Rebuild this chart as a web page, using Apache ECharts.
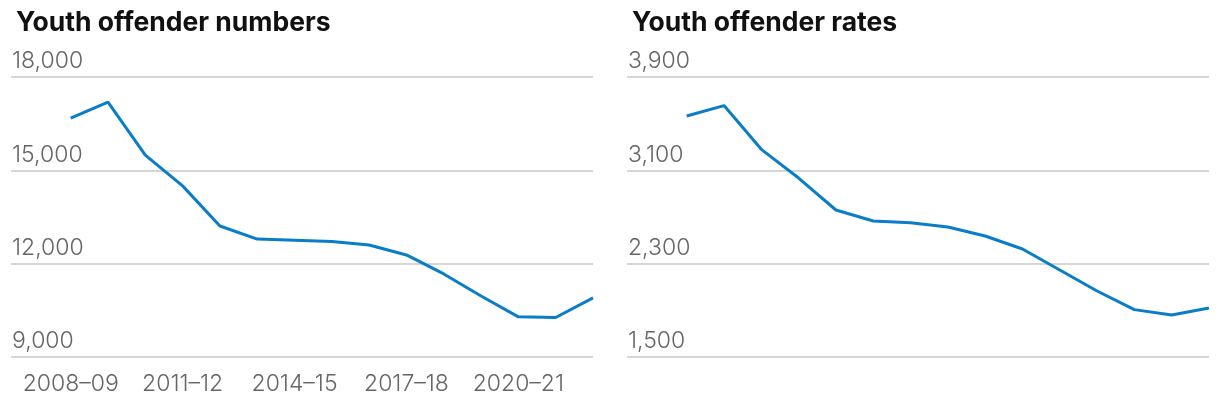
<!DOCTYPE html>
<html>
<head>
<meta charset="utf-8">
<script src="https://cdn.jsdelivr.net/npm/echarts@6/dist/echarts.min.js"></script>
<style>
html,body{margin:0;padding:0;background:#fff;}
#c{width:1220px;height:404px;}
</style>
</head>
<body>
<div id="c"></div>
<script>
const years = ['2008–09','2009–10','2010–11','2011–12','2012–13','2013–14','2014–15','2015–16','2016–17','2017–18','2018–19','2019–20','2020–21','2021–22','2022–23'];
const offenderNumbers = [16680, 17190, 15490, 14500, 13210, 12790, 12750, 12710, 12600, 12280, 11670, 10960, 10290, 10270, 10900];
const offenderRates = [3566, 3655, 3280, 3034, 2760, 2666, 2650, 2614, 2537, 2426, 2246, 2066, 1906, 1860, 1920];
const numberTicks = [9000, 12000, 15000, 18000];
const rateTicks = [1500, 2300, 3100, 3900];
const labelIdx = [0, 3, 6, 9, 12];

const FONT = 'Inter, "Noto Sans", sans-serif';
const chart = echarts.init(document.getElementById('c'), null, {renderer:'canvas'});

function yAxis(gi, ticks){
  return {
    type:'value', gridIndex:gi, min:ticks[0], max:ticks[ticks.length-1],
    interval: ticks[1]-ticks[0],
    axisLine:{show:false}, axisTick:{show:false},
    splitLine:{show:true, lineStyle:{color:'#d6d6d6', width:2}},
    axisLabel:{
      inside:true, align:'left', verticalAlign:'bottom', margin:1,
      padding:[0,0,4,0],
      color:'#666', fontFamily:FONT, fontSize:23, fontWeight:300,
      formatter: v => v.toLocaleString('en-US')
    }
  };
}
function xAxis(gi, showLabels){
  return {
    type:'value', gridIndex:gi, min:-1.6, max:years.length-1,
    axisLine:{show:false}, axisTick:{show:false}, splitLine:{show:false},
    axisLabel:{
      show:showLabels, customValues:labelIdx, margin:16,
      color:'#666', fontFamily:FONT, fontSize:23, fontWeight:300,
      formatter: v => years[Math.round(v)]
    }
  };
}

chart.setOption({
  animation:false,
  title:[
    {text:'Youth offender numbers', left:11, top:5, textStyle:{fontFamily:FONT, fontSize:26.5, fontWeight:700, color:'#111'}},
    {text:'Youth offender rates', left:627, top:5, textStyle:{fontFamily:FONT, fontSize:26.5, fontWeight:700, color:'#111'}}
  ],
  grid:[
    {left:11, right:627, top:77, bottom:47},
    {left:627, right:11, top:77, bottom:47}
  ],
  xAxis:[xAxis(0,true), xAxis(1,false)],
  yAxis:[yAxis(0,numberTicks), yAxis(1,rateTicks)],
  series:[
    {type:'line', xAxisIndex:0, yAxisIndex:0, data:offenderNumbers.map((v,i)=>[i,v]),
     showSymbol:false, lineStyle:{color:'#0a7dc9', width:3}, itemStyle:{color:'#0a7dc9'}},
    {type:'line', xAxisIndex:1, yAxisIndex:1, data:offenderRates.map((v,i)=>[i,v]),
     showSymbol:false, lineStyle:{color:'#0a7dc9', width:3}, itemStyle:{color:'#0a7dc9'}}
  ]
});
</script>
</body>
</html>
